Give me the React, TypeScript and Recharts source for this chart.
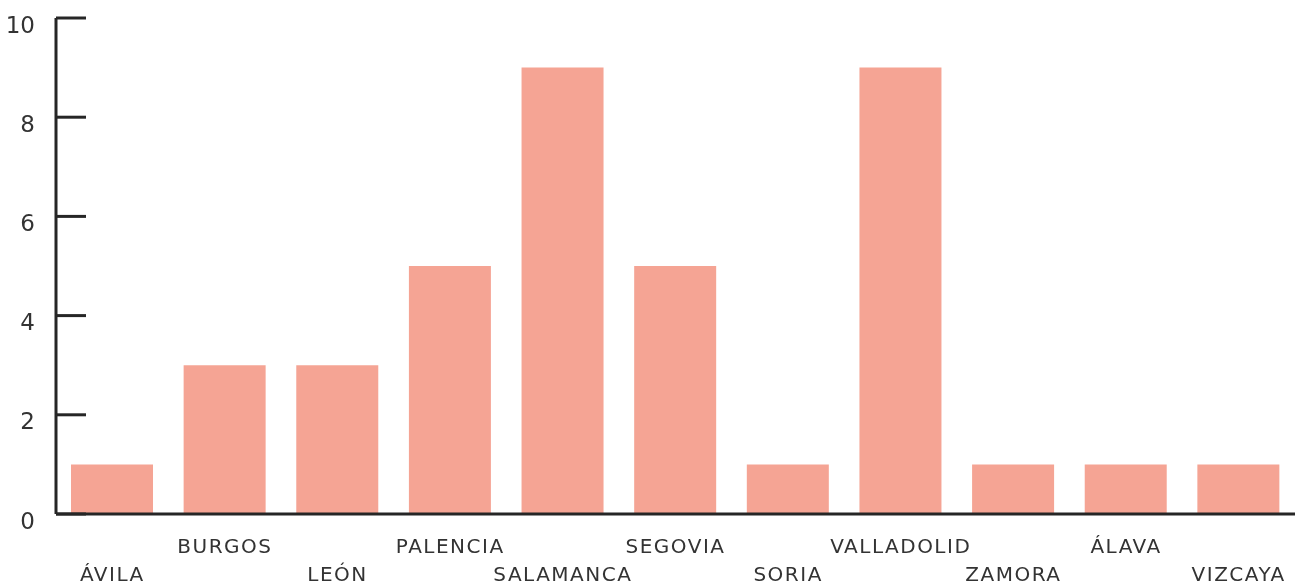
import React from "react";
import { BarChart, Bar, XAxis, YAxis } from "recharts";

const categories = ["ÁVILA", "BURGOS", "LEÓN", "PALENCIA", "SALAMANCA", "SEGOVIA", "SORIA", "VALLADOLID", "ZAMORA", "ÁLAVA", "VIZCAYA"];
const values = [1, 3, 3, 5, 9, 5, 1, 9, 1, 1, 1];
const yTicks = [0, 2, 4, 6, 8, 10];

const data = categories.map((c, i) => ({ name: c, value: values[i] }));

const FONT = "'DejaVu Sans', sans-serif";
const TEXT = "#333333";
const AXIS = "#262626";

const YTick = (props: any) => {
  const { x, y, payload } = props;
  return (
    <g>
      <line x1={x} x2={x + 30} y1={y} y2={y} stroke={AXIS} strokeWidth={3} />
      <text x={x - 21} y={y + 8} textAnchor="end" dominantBaseline="middle" fontFamily={FONT} fontSize={23} fill={TEXT}>
        {payload.value}
      </text>
    </g>
  );
};

const XTick = (props: any) => {
  const { x, y, payload, index } = props;
  const off = index % 2 === 0 ? 61 : 33;
  return (
    <text x={x} y={y + off} textAnchor="middle" dominantBaseline="middle" fontFamily={FONT} fontSize={20} letterSpacing={1.5} fill={TEXT}>
      {payload.value}
    </text>
  );
};

export default function App() {
  return (
    <div style={{ position: "fixed", left: 0, top: 0, width: 1299, height: 586 }}>
      <BarChart width={1299} height={586} data={data} margin={{ top: 18, right: 4, bottom: 0, left: 0 }}>
        <YAxis
          width={56}
          domain={[0, 10]}
          ticks={yTicks}
          interval={0}
          tickSize={0}
          tickMargin={0}
          tickLine={false}
          axisLine={{ stroke: AXIS, strokeWidth: 3 }}
          tick={<YTick />}
        />
        <XAxis
          dataKey="name"
          height={72}
          interval={0}
          tickSize={0}
          tickMargin={0}
          tickLine={false}
          axisLine={{ stroke: AXIS, strokeWidth: 3 }}
          tick={<XTick />}
        />
        <Bar dataKey="value" fill="#F5A494" barSize={82} isAnimationActive={false} />
      </BarChart>
    </div>
  );
}
